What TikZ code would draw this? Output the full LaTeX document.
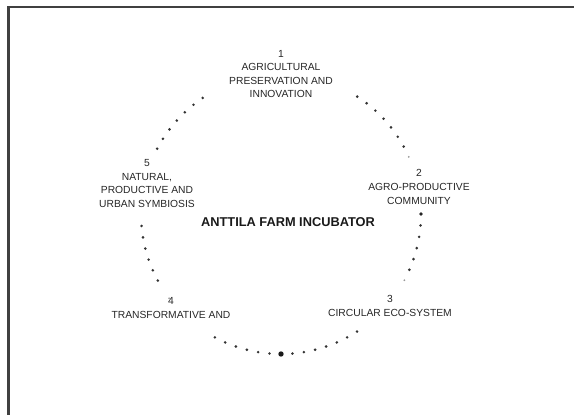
\documentclass[tikz,border=0pt]{standalone}
\usepackage{fontspec}
\setmainfont{Liberation Sans}
\newcommand{\dotarc}[3]{%
  \foreach \a in {#1,#2,...,#3}{\fill[black!80] (\a:140) circle(1.45pt);}%
}

\begin{document}
\begin{tikzpicture}[x=1pt,y=1pt,
    lbl/.style={align=center,text=black!85,font=\fontsize{10.3}{13.6}\selectfont,inner sep=0pt},
    title/.style={text=black!90,font=\fontsize{12.8}{14}\selectfont\bfseries,inner sep=0pt}]
  \useasboundingbox (-281,-201) rectangle (293,214);
  % frame
  \draw[line width=2.2pt,black!75] (-272.5,-201)--(-272.5,207)--(293,207);
  % dotted ring
  \dotarc{124}{128.7}{152.3}
  \dotarc{57}{52.3}{28.6}
  \dotarc{-4.7}{-9.4}{-24}
  \dotarc{-57.1}{-61.8}{-85.4}
  \dotarc{-94.7}{-99.4}{-118.3}
  \dotarc{184.9}{189.6}{208.5}
  \fill[black!40] (24.1:140) circle(1pt);
  \fill[black!40] (-28.2:140) circle(1pt);
  \fill[black!40] (217:140) circle(1pt);
  \fill[black!85] (0:140) circle(1.8pt);
  \fill[black!90] (-90:140) circle(2.7pt);
  % labels
  \node[lbl] (agri) at (0,140) {1\\AGRICULTURAL\\PRESERVATION AND\\INNOVATION};
  \node[lbl] (agro) at (138,27) {2\\AGRO-PRODUCTIVE\\COMMUNITY};
  \node[lbl] (circ) at (109,-92) {3\\CIRCULAR ECO-SYSTEM};
  \node[lbl] (trans) at (-110,-94) {4\\TRANSFORMATIVE AND};
  \node[lbl] (symb) at (-134,30.5) {5\\NATURAL,\\PRODUCTIVE AND\\URBAN SYMBIOSIS};
  \node[title] (farm) at (7,-8) {ANTTILA FARM INCUBATOR};
\end{tikzpicture}
\end{document}
